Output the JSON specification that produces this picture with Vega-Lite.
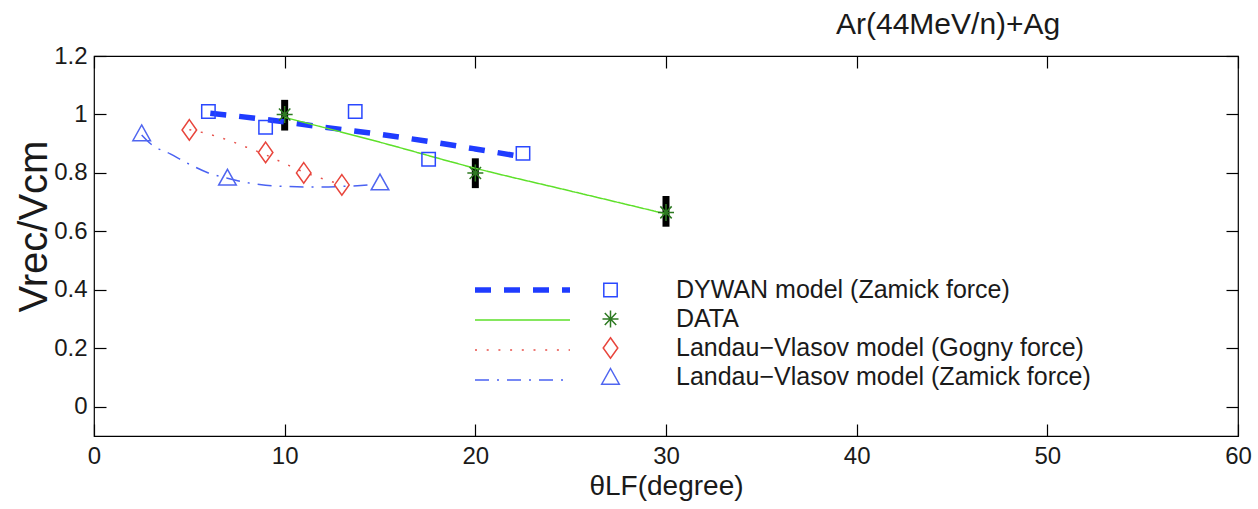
{
  "$schema": "https://vega.github.io/schema/vega-lite/v6.json",
  "width": 1144,
  "height": 380,
  "autosize": {"type": "none"},
  "padding": {"left": 94, "top": 56, "right": 20, "bottom": 73},
  "background": "white",
  "title": {"text": "Ar(44MeV/n)+Ag", "anchor": "start", "frame": "group", "dx": 742, "offset": -20, "baseline": "alphabetic", "fontSize": 30, "fontWeight": "normal", "font": "Liberation Sans", "color": "#1a1a1a"},
  "datasets": {
    "points": [
      {"model": "DYWAN model (Zamick force)", "x": 6.0, "y": 1.01},
      {"model": "DYWAN model (Zamick force)", "x": 9.0, "y": 0.956},
      {"model": "DYWAN model (Zamick force)", "x": 13.7, "y": 1.01},
      {"model": "DYWAN model (Zamick force)", "x": 17.55, "y": 0.847},
      {"model": "DYWAN model (Zamick force)", "x": 22.5, "y": 0.867},
      {"model": "DATA", "x": 10, "y": 1.0},
      {"model": "DATA", "x": 20, "y": 0.8},
      {"model": "DATA", "x": 30, "y": 0.665},
      {"model": "Landau−Vlasov model (Gogny force)", "x": 5.0, "y": 0.947},
      {"model": "Landau−Vlasov model (Gogny force)", "x": 9.0, "y": 0.87},
      {"model": "Landau−Vlasov model (Gogny force)", "x": 11.0, "y": 0.8},
      {"model": "Landau−Vlasov model (Gogny force)", "x": 13.0, "y": 0.759},
      {"model": "Landau−Vlasov model (Zamick force)", "x": 2.5, "y": 0.935},
      {"model": "Landau−Vlasov model (Zamick force)", "x": 7.0, "y": 0.783},
      {"model": "Landau−Vlasov model (Zamick force)", "x": 15.0, "y": 0.767}
    ],
    "errors": [
      {"x": 10, "lo": 0.945, "hi": 1.05},
      {"x": 20, "lo": 0.748, "hi": 0.85},
      {"x": 30, "lo": 0.616, "hi": 0.721}
    ],
    "curves": [
      {"curve": "DYWAN model (Zamick force)", "x": 6.1, "y": 1.004},
      {"curve": "DYWAN model (Zamick force)", "x": 9.0, "y": 0.983},
      {"curve": "DYWAN model (Zamick force)", "x": 12.0, "y": 0.957},
      {"curve": "DYWAN model (Zamick force)", "x": 15.0, "y": 0.932},
      {"curve": "DYWAN model (Zamick force)", "x": 18.0, "y": 0.903},
      {"curve": "DYWAN model (Zamick force)", "x": 20.0, "y": 0.882},
      {"curve": "DYWAN model (Zamick force)", "x": 22.4, "y": 0.856},
      {"curve": "DATA", "x": 10, "y": 0.99},
      {"curve": "DATA", "x": 15, "y": 0.905},
      {"curve": "DATA", "x": 20, "y": 0.816},
      {"curve": "DATA", "x": 25, "y": 0.738},
      {"curve": "DATA", "x": 30, "y": 0.66},
      {"curve": "Landau−Vlasov model (Gogny force)", "x": 5.0, "y": 0.948},
      {"curve": "Landau−Vlasov model (Gogny force)", "x": 6.0, "y": 0.933},
      {"curve": "Landau−Vlasov model (Gogny force)", "x": 7.0, "y": 0.913},
      {"curve": "Landau−Vlasov model (Gogny force)", "x": 8.0, "y": 0.888},
      {"curve": "Landau−Vlasov model (Gogny force)", "x": 9.0, "y": 0.862},
      {"curve": "Landau−Vlasov model (Gogny force)", "x": 10.0, "y": 0.832},
      {"curve": "Landau−Vlasov model (Gogny force)", "x": 11.0, "y": 0.803},
      {"curve": "Landau−Vlasov model (Gogny force)", "x": 12.0, "y": 0.78},
      {"curve": "Landau−Vlasov model (Gogny force)", "x": 13.0, "y": 0.76},
      {"curve": "Landau−Vlasov model (Zamick force)", "x": 2.5, "y": 0.93},
      {"curve": "Landau−Vlasov model (Zamick force)", "x": 3.0, "y": 0.898},
      {"curve": "Landau−Vlasov model (Zamick force)", "x": 4.0, "y": 0.865},
      {"curve": "Landau−Vlasov model (Zamick force)", "x": 5.0, "y": 0.83},
      {"curve": "Landau−Vlasov model (Zamick force)", "x": 6.0, "y": 0.8},
      {"curve": "Landau−Vlasov model (Zamick force)", "x": 7.0, "y": 0.782},
      {"curve": "Landau−Vlasov model (Zamick force)", "x": 8.0, "y": 0.767},
      {"curve": "Landau−Vlasov model (Zamick force)", "x": 9.0, "y": 0.758},
      {"curve": "Landau−Vlasov model (Zamick force)", "x": 10.0, "y": 0.754},
      {"curve": "Landau−Vlasov model (Zamick force)", "x": 11.0, "y": 0.752},
      {"curve": "Landau−Vlasov model (Zamick force)", "x": 12.0, "y": 0.752},
      {"curve": "Landau−Vlasov model (Zamick force)", "x": 13.0, "y": 0.754},
      {"curve": "Landau−Vlasov model (Zamick force)", "x": 14.0, "y": 0.757},
      {"curve": "Landau−Vlasov model (Zamick force)", "x": 14.6, "y": 0.76}
    ]
  },
  "layer": [
    {
      "data": {"name": "errors"},
      "mark": {"type": "rule", "color": "#000000", "strokeWidth": 7},
      "encoding": {
        "x": {"field": "x", "type": "quantitative", "scale": {"domain": [0, 60], "nice": false, "zero": false},
          "axis": {"orient": "bottom", "values": [0, 10, 20, 30, 40, 50, 60], "labelFontSize": 24, "labelPadding": 20, "labelFlush": false, "labelOverlap": false,
            "title": "θLF(degree)", "titleFontSize": 28, "titleY": 58, "titleBaseline": "alphabetic"}},
        "y": {"field": "lo", "type": "quantitative", "scale": {"domain": [-0.1, 1.2], "nice": false, "zero": false},
          "axis": {"orient": "left", "values": [0, 0.2, 0.4, 0.6, 0.8, 1, 1.2], "format": "~g", "labelFontSize": 24, "labelPadding": 19, "labelFlush": false, "labelOverlap": false,
            "title": "Vrec/Vcm", "titleFontSize": 40, "titleX": -48, "titleY": 170, "titleBaseline": "alphabetic", "titleAngle": -90}},
        "y2": {"field": "hi"}
      }
    },
    {
      "data": {"name": "curves"},
      "mark": {"type": "line", "interpolate": "monotone"},
      "encoding": {
        "x": {"field": "x", "type": "quantitative", "scale": {"domain": [0, 60], "nice": false, "zero": false},
          "axis": {"orient": "top", "values": [0, 10, 20, 30, 40, 50, 60], "labels": false, "title": null}},
        "y": {"field": "y", "type": "quantitative", "scale": {"domain": [-0.1, 1.2], "nice": false, "zero": false},
          "axis": {"orient": "right", "values": [0, 0.2, 0.4, 0.6, 0.8, 1, 1.2], "labels": false, "title": null}},
        "stroke": {"field": "curve", "type": "nominal",
          "sort": {"field": "y", "op": "max", "order": "descending"},
          "scale": {"range": ["#1f3cff", "#5ee02a", "#e8504a", "#4a62f2"]},
          "legend": {"orient": "none", "legendX": 381, "legendY": 219.5, "title": null, "symbolType": "M-4.75,0H4.75", "symbolSize": 400, "symbolOffset": 33, "symbolFillColor": "transparent", "labelExpr": "' '", "labelFontSize": 29, "labelBaseline": "middle", "rowPadding": 0, "padding": 0, "symbolStrokeWidth": 1.5,
            "encode": {"symbols": {"update": {"strokeWidth": {"signal": "datum.value === 'DYWAN model (Zamick force)' ? 5.5 : 1.5"}}}}}},
        "strokeDash": {"field": "curve", "type": "nominal",
          "sort": {"field": "y", "op": "max", "order": "descending"},
          "scale": {"range": [[16, 13], [1, 0], [2, 9.7], [14, 8, 2, 8]]},
          "legend": {"orient": "none", "legendX": 381, "legendY": 219.5, "title": null, "symbolType": "M-4.75,0H4.75", "symbolSize": 400, "symbolOffset": 33, "symbolFillColor": "transparent", "labelExpr": "' '", "labelFontSize": 29, "labelBaseline": "middle", "rowPadding": 0, "padding": 0, "symbolStrokeWidth": 1.5,
            "encode": {"symbols": {"update": {"strokeWidth": {"signal": "datum.value === 'DYWAN model (Zamick force)' ? 5.5 : 1.5"}}}}}},
        "strokeWidth": {"condition": {"test": "datum.curve === 'DYWAN model (Zamick force)'", "value": 5.5}, "value": 1.5}
      }
    },
    {
      "data": {"name": "points"},
      "mark": {"type": "point", "filled": false, "size": 400, "strokeWidth": 1.5, "opacity": 1},
      "encoding": {
        "x": {"field": "x", "type": "quantitative", "scale": {"domain": [0, 60], "nice": false, "zero": false}, "axis": null},
        "y": {"field": "y", "type": "quantitative", "scale": {"domain": [-0.1, 1.2], "nice": false, "zero": false}, "axis": null},
        "color": {"field": "model", "type": "nominal",
          "sort": {"field": "y", "op": "max", "order": "descending"},
          "scale": {"range": ["#2a48ff", "#2e7a22", "#e8453c", "#5066f0"]},
          "legend": {"orient": "none", "legendX": 504, "legendY": 219.5, "title": null, "symbolSize": 400, "labelOffset": 53, "labelFontSize": 25, "labelLimit": 0, "labelColor": "#1a1a1a", "clipHeight": 29, "rowPadding": 0, "padding": 0, "symbolStrokeWidth": 1.5, "labelBaseline": "middle"}},
        "shape": {"field": "model", "type": "nominal",
          "sort": {"field": "y", "op": "max", "order": "descending"},
          "scale": {"range": ["M-0.67,-0.67H0.67V0.67H-0.67Z", "M-0.8,0L0.8,0M0,-0.85L0,0.85M-0.57,-0.6L0.57,0.6M-0.57,0.6L0.57,-0.6", "M0,-1.03L0.73,0L0,1.03L-0.73,0Z", "M0,-0.85L0.88,0.72L-0.88,0.72Z"]},
          "legend": {"orient": "none", "legendX": 504, "legendY": 219.5, "title": null, "symbolSize": 400, "labelOffset": 53, "labelFontSize": 25, "labelLimit": 0, "labelColor": "#1a1a1a", "clipHeight": 29, "rowPadding": 0, "padding": 0, "symbolStrokeWidth": 1.5, "labelBaseline": "middle"}}
      }
    }
  ],
  "resolve": {"axis": {"x": "independent", "y": "independent"}},
  "config": {
    "font": "Liberation Sans",
    "view": {"stroke": "#000000", "strokeWidth": 1.2},
    "axis": {"grid": false, "domain": false, "tickColor": "#000000", "tickWidth": 1.2, "tickSize": -12, "labelColor": "#1a1a1a", "titleColor": "#1a1a1a", "labelFont": "Liberation Sans", "titleFont": "Liberation Sans", "titleFontWeight": "normal"},
    "legend": {"labelFont": "Liberation Sans"}
  }
}
